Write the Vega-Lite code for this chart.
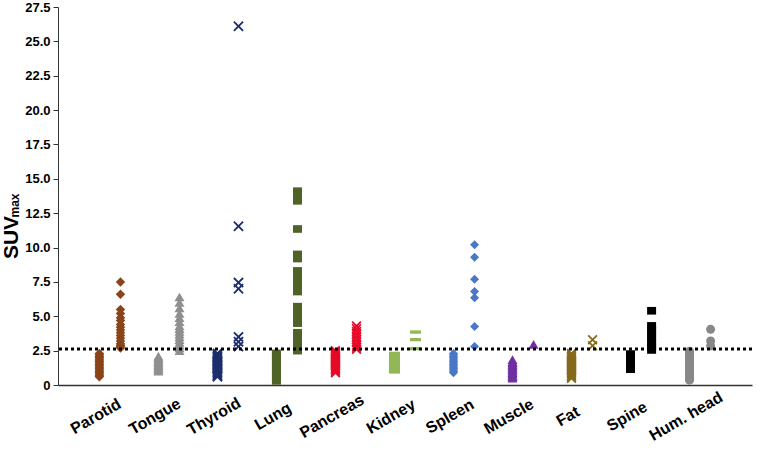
{
  "$schema": "https://vega.github.io/schema/vega-lite/v6.json",
  "autosize": {"type": "none"},
  "padding": {"left": 58, "top": 7, "right": 5, "bottom": 64},
  "width": 694,
  "height": 378,
  "background": "white",
  "config": {"view": {"stroke": null}, "font": "Liberation Sans"},
  "datasets": {
    "pts": [
      {"organ": "Parotid", "pos": "low", "v": 0.6}, {"organ": "Parotid", "pos": "low", "v": 0.7}, {"organ": "Parotid", "pos": "low", "v": 0.8}, {"organ": "Parotid", "pos": "low", "v": 0.9}, {"organ": "Parotid", "pos": "low", "v": 1.0}, {"organ": "Parotid", "pos": "low", "v": 1.1}, {"organ": "Parotid", "pos": "low", "v": 1.2}, {"organ": "Parotid", "pos": "low", "v": 1.3}, {"organ": "Parotid", "pos": "low", "v": 1.4}, {"organ": "Parotid", "pos": "low", "v": 1.5}, {"organ": "Parotid", "pos": "low", "v": 1.6}, {"organ": "Parotid", "pos": "low", "v": 1.7}, {"organ": "Parotid", "pos": "low", "v": 1.8}, {"organ": "Parotid", "pos": "low", "v": 1.9}, {"organ": "Parotid", "pos": "low", "v": 2.0}, {"organ": "Parotid", "pos": "low", "v": 2.1}, {"organ": "Parotid", "pos": "low", "v": 2.2}, {"organ": "Parotid", "pos": "low", "v": 2.3},
      {"organ": "Parotid", "pos": "high", "v": 7.5}, {"organ": "Parotid", "pos": "high", "v": 6.6}, {"organ": "Parotid", "pos": "high", "v": 5.5}, {"organ": "Parotid", "pos": "high", "v": 5.2}, {"organ": "Parotid", "pos": "high", "v": 4.9}, {"organ": "Parotid", "pos": "high", "v": 4.7}, {"organ": "Parotid", "pos": "high", "v": 4.4}, {"organ": "Parotid", "pos": "high", "v": 4.2}, {"organ": "Parotid", "pos": "high", "v": 4.0}, {"organ": "Parotid", "pos": "high", "v": 3.8}, {"organ": "Parotid", "pos": "high", "v": 3.6}, {"organ": "Parotid", "pos": "high", "v": 3.4}, {"organ": "Parotid", "pos": "high", "v": 3.2}, {"organ": "Parotid", "pos": "high", "v": 3.0}, {"organ": "Parotid", "pos": "high", "v": 2.9}, {"organ": "Parotid", "pos": "high", "v": 2.8}, {"organ": "Parotid", "pos": "high", "v": 2.7},
      {"organ": "Tongue", "pos": "low", "v": 2.1}, {"organ": "Tongue", "pos": "low", "v": 2.0}, {"organ": "Tongue", "pos": "low", "v": 1.9}, {"organ": "Tongue", "pos": "low", "v": 1.8}, {"organ": "Tongue", "pos": "low", "v": 1.7}, {"organ": "Tongue", "pos": "low", "v": 1.6}, {"organ": "Tongue", "pos": "low", "v": 1.5}, {"organ": "Tongue", "pos": "low", "v": 1.4}, {"organ": "Tongue", "pos": "low", "v": 1.3}, {"organ": "Tongue", "pos": "low", "v": 1.2}, {"organ": "Tongue", "pos": "low", "v": 1.1}, {"organ": "Tongue", "pos": "low", "v": 1.0},
      {"organ": "Tongue", "pos": "high", "v": 6.4}, {"organ": "Tongue", "pos": "high", "v": 6.0}, {"organ": "Tongue", "pos": "high", "v": 5.6}, {"organ": "Tongue", "pos": "high", "v": 5.2}, {"organ": "Tongue", "pos": "high", "v": 4.9}, {"organ": "Tongue", "pos": "high", "v": 4.6}, {"organ": "Tongue", "pos": "high", "v": 4.3}, {"organ": "Tongue", "pos": "high", "v": 4.1}, {"organ": "Tongue", "pos": "high", "v": 3.9}, {"organ": "Tongue", "pos": "high", "v": 3.7}, {"organ": "Tongue", "pos": "high", "v": 3.5}, {"organ": "Tongue", "pos": "high", "v": 3.3}, {"organ": "Tongue", "pos": "high", "v": 3.1}, {"organ": "Tongue", "pos": "high", "v": 2.9}, {"organ": "Tongue", "pos": "high", "v": 2.7}, {"organ": "Tongue", "pos": "high", "v": 2.5},
      {"organ": "Thyroid", "pos": "low", "v": 2.3}, {"organ": "Thyroid", "pos": "low", "v": 2.2}, {"organ": "Thyroid", "pos": "low", "v": 2.1}, {"organ": "Thyroid", "pos": "low", "v": 2.0}, {"organ": "Thyroid", "pos": "low", "v": 1.9}, {"organ": "Thyroid", "pos": "low", "v": 1.8}, {"organ": "Thyroid", "pos": "low", "v": 1.7}, {"organ": "Thyroid", "pos": "low", "v": 1.6}, {"organ": "Thyroid", "pos": "low", "v": 1.5}, {"organ": "Thyroid", "pos": "low", "v": 1.4}, {"organ": "Thyroid", "pos": "low", "v": 1.3}, {"organ": "Thyroid", "pos": "low", "v": 1.2}, {"organ": "Thyroid", "pos": "low", "v": 1.1}, {"organ": "Thyroid", "pos": "low", "v": 1.0}, {"organ": "Thyroid", "pos": "low", "v": 0.9}, {"organ": "Thyroid", "pos": "low", "v": 0.8}, {"organ": "Thyroid", "pos": "low", "v": 0.7}, {"organ": "Thyroid", "pos": "low", "v": 0.6},
      {"organ": "Thyroid", "pos": "high", "v": 26.1}, {"organ": "Thyroid", "pos": "high", "v": 11.55}, {"organ": "Thyroid", "pos": "high", "v": 7.45}, {"organ": "Thyroid", "pos": "high", "v": 7.0}, {"organ": "Thyroid", "pos": "high", "v": 3.5}, {"organ": "Thyroid", "pos": "high", "v": 3.15}, {"organ": "Thyroid", "pos": "high", "v": 2.8},
      {"organ": "Lung", "pos": "low", "v": 0.3}, {"organ": "Lung", "pos": "low", "v": 0.6}, {"organ": "Lung", "pos": "low", "v": 0.9}, {"organ": "Lung", "pos": "low", "v": 1.2}, {"organ": "Lung", "pos": "low", "v": 1.5}, {"organ": "Lung", "pos": "low", "v": 1.8}, {"organ": "Lung", "pos": "low", "v": 2.1}, {"organ": "Lung", "pos": "low", "v": 2.3},
      {"organ": "Lung", "pos": "high", "v": 14.1}, {"organ": "Lung", "pos": "high", "v": 13.8}, {"organ": "Lung", "pos": "high", "v": 13.4}, {"organ": "Lung", "pos": "high", "v": 11.35}, {"organ": "Lung", "pos": "high", "v": 9.5}, {"organ": "Lung", "pos": "high", "v": 9.2}, {"organ": "Lung", "pos": "high", "v": 8.3}, {"organ": "Lung", "pos": "high", "v": 8.0}, {"organ": "Lung", "pos": "high", "v": 7.7}, {"organ": "Lung", "pos": "high", "v": 7.4}, {"organ": "Lung", "pos": "high", "v": 7.1}, {"organ": "Lung", "pos": "high", "v": 6.8}, {"organ": "Lung", "pos": "high", "v": 5.7}, {"organ": "Lung", "pos": "high", "v": 5.4}, {"organ": "Lung", "pos": "high", "v": 5.1}, {"organ": "Lung", "pos": "high", "v": 4.8}, {"organ": "Lung", "pos": "high", "v": 4.5}, {"organ": "Lung", "pos": "high", "v": 3.8}, {"organ": "Lung", "pos": "high", "v": 3.5}, {"organ": "Lung", "pos": "high", "v": 3.2}, {"organ": "Lung", "pos": "high", "v": 2.9}, {"organ": "Lung", "pos": "high", "v": 2.5},
      {"organ": "Pancreas", "pos": "low", "v": 2.5}, {"organ": "Pancreas", "pos": "low", "v": 2.4}, {"organ": "Pancreas", "pos": "low", "v": 2.3}, {"organ": "Pancreas", "pos": "low", "v": 2.2}, {"organ": "Pancreas", "pos": "low", "v": 2.1}, {"organ": "Pancreas", "pos": "low", "v": 2.0}, {"organ": "Pancreas", "pos": "low", "v": 1.9}, {"organ": "Pancreas", "pos": "low", "v": 1.8}, {"organ": "Pancreas", "pos": "low", "v": 1.7}, {"organ": "Pancreas", "pos": "low", "v": 1.6}, {"organ": "Pancreas", "pos": "low", "v": 1.5}, {"organ": "Pancreas", "pos": "low", "v": 1.4}, {"organ": "Pancreas", "pos": "low", "v": 1.3}, {"organ": "Pancreas", "pos": "low", "v": 1.2}, {"organ": "Pancreas", "pos": "low", "v": 1.1}, {"organ": "Pancreas", "pos": "low", "v": 1.0}, {"organ": "Pancreas", "pos": "low", "v": 0.9},
      {"organ": "Pancreas", "pos": "high", "v": 4.3}, {"organ": "Pancreas", "pos": "high", "v": 4.1}, {"organ": "Pancreas", "pos": "high", "v": 3.9}, {"organ": "Pancreas", "pos": "high", "v": 3.7}, {"organ": "Pancreas", "pos": "high", "v": 3.5}, {"organ": "Pancreas", "pos": "high", "v": 3.3}, {"organ": "Pancreas", "pos": "high", "v": 3.1}, {"organ": "Pancreas", "pos": "high", "v": 2.9}, {"organ": "Pancreas", "pos": "high", "v": 2.75}, {"organ": "Pancreas", "pos": "high", "v": 2.6},
      {"organ": "Kidney", "pos": "low", "v": 2.3}, {"organ": "Kidney", "pos": "low", "v": 2.15}, {"organ": "Kidney", "pos": "low", "v": 2.0}, {"organ": "Kidney", "pos": "low", "v": 1.85}, {"organ": "Kidney", "pos": "low", "v": 1.7}, {"organ": "Kidney", "pos": "low", "v": 1.55}, {"organ": "Kidney", "pos": "low", "v": 1.4}, {"organ": "Kidney", "pos": "low", "v": 1.25}, {"organ": "Kidney", "pos": "low", "v": 1.1}, {"organ": "Kidney", "pos": "low", "v": 0.95},
      {"organ": "Kidney", "pos": "high", "v": 3.85}, {"organ": "Kidney", "pos": "high", "v": 3.3}, {"organ": "Kidney", "pos": "high", "v": 2.65},
      {"organ": "Spleen", "pos": "low", "v": 2.3}, {"organ": "Spleen", "pos": "low", "v": 2.2}, {"organ": "Spleen", "pos": "low", "v": 2.1}, {"organ": "Spleen", "pos": "low", "v": 2.0}, {"organ": "Spleen", "pos": "low", "v": 1.9}, {"organ": "Spleen", "pos": "low", "v": 1.8}, {"organ": "Spleen", "pos": "low", "v": 1.7}, {"organ": "Spleen", "pos": "low", "v": 1.6}, {"organ": "Spleen", "pos": "low", "v": 1.5}, {"organ": "Spleen", "pos": "low", "v": 1.4}, {"organ": "Spleen", "pos": "low", "v": 1.3}, {"organ": "Spleen", "pos": "low", "v": 1.2}, {"organ": "Spleen", "pos": "low", "v": 1.1}, {"organ": "Spleen", "pos": "low", "v": 1.0}, {"organ": "Spleen", "pos": "low", "v": 0.9},
      {"organ": "Spleen", "pos": "high", "v": 10.2}, {"organ": "Spleen", "pos": "high", "v": 9.3}, {"organ": "Spleen", "pos": "high", "v": 7.7}, {"organ": "Spleen", "pos": "high", "v": 6.8}, {"organ": "Spleen", "pos": "high", "v": 6.35}, {"organ": "Spleen", "pos": "high", "v": 4.25}, {"organ": "Spleen", "pos": "high", "v": 2.8},
      {"organ": "Muscle", "pos": "low", "v": 1.85}, {"organ": "Muscle", "pos": "low", "v": 1.7}, {"organ": "Muscle", "pos": "low", "v": 1.6}, {"organ": "Muscle", "pos": "low", "v": 1.5}, {"organ": "Muscle", "pos": "low", "v": 1.4}, {"organ": "Muscle", "pos": "low", "v": 1.3}, {"organ": "Muscle", "pos": "low", "v": 1.2}, {"organ": "Muscle", "pos": "low", "v": 1.1}, {"organ": "Muscle", "pos": "low", "v": 1.0}, {"organ": "Muscle", "pos": "low", "v": 0.9}, {"organ": "Muscle", "pos": "low", "v": 0.8}, {"organ": "Muscle", "pos": "low", "v": 0.7}, {"organ": "Muscle", "pos": "low", "v": 0.6}, {"organ": "Muscle", "pos": "low", "v": 0.5},
      {"organ": "Muscle", "pos": "high", "v": 2.95},
      {"organ": "Fat", "pos": "low", "v": 2.3}, {"organ": "Fat", "pos": "low", "v": 2.2}, {"organ": "Fat", "pos": "low", "v": 2.1}, {"organ": "Fat", "pos": "low", "v": 2.0}, {"organ": "Fat", "pos": "low", "v": 1.9}, {"organ": "Fat", "pos": "low", "v": 1.8}, {"organ": "Fat", "pos": "low", "v": 1.7}, {"organ": "Fat", "pos": "low", "v": 1.6}, {"organ": "Fat", "pos": "low", "v": 1.5}, {"organ": "Fat", "pos": "low", "v": 1.4}, {"organ": "Fat", "pos": "low", "v": 1.3}, {"organ": "Fat", "pos": "low", "v": 1.2}, {"organ": "Fat", "pos": "low", "v": 1.1}, {"organ": "Fat", "pos": "low", "v": 1.0}, {"organ": "Fat", "pos": "low", "v": 0.9}, {"organ": "Fat", "pos": "low", "v": 0.8}, {"organ": "Fat", "pos": "low", "v": 0.7}, {"organ": "Fat", "pos": "low", "v": 0.6}, {"organ": "Fat", "pos": "low", "v": 0.5},
      {"organ": "Fat", "pos": "high", "v": 3.3}, {"organ": "Fat", "pos": "high", "v": 2.85},
      {"organ": "Spine", "pos": "low", "v": 2.25}, {"organ": "Spine", "pos": "low", "v": 2.0}, {"organ": "Spine", "pos": "low", "v": 1.75}, {"organ": "Spine", "pos": "low", "v": 1.5}, {"organ": "Spine", "pos": "low", "v": 1.3}, {"organ": "Spine", "pos": "low", "v": 1.15},
      {"organ": "Spine", "pos": "high", "v": 5.4}, {"organ": "Spine", "pos": "high", "v": 4.3}, {"organ": "Spine", "pos": "high", "v": 4.0}, {"organ": "Spine", "pos": "high", "v": 3.7}, {"organ": "Spine", "pos": "high", "v": 3.4}, {"organ": "Spine", "pos": "high", "v": 3.1}, {"organ": "Spine", "pos": "high", "v": 2.8}, {"organ": "Spine", "pos": "high", "v": 2.55},
      {"organ": "Hum. head", "pos": "low", "v": 2.45}, {"organ": "Hum. head", "pos": "low", "v": 2.3}, {"organ": "Hum. head", "pos": "low", "v": 2.15}, {"organ": "Hum. head", "pos": "low", "v": 2.0}, {"organ": "Hum. head", "pos": "low", "v": 1.85}, {"organ": "Hum. head", "pos": "low", "v": 1.7}, {"organ": "Hum. head", "pos": "low", "v": 1.55}, {"organ": "Hum. head", "pos": "low", "v": 1.4}, {"organ": "Hum. head", "pos": "low", "v": 1.25}, {"organ": "Hum. head", "pos": "low", "v": 1.1}, {"organ": "Hum. head", "pos": "low", "v": 0.95}, {"organ": "Hum. head", "pos": "low", "v": 0.8}, {"organ": "Hum. head", "pos": "low", "v": 0.65}, {"organ": "Hum. head", "pos": "low", "v": 0.5}, {"organ": "Hum. head", "pos": "low", "v": 0.35},
      {"organ": "Hum. head", "pos": "high", "v": 4.05}, {"organ": "Hum. head", "pos": "high", "v": 3.2}, {"organ": "Hum. head", "pos": "high", "v": 2.85}
    ],
    "thr": [{"t": 2.62}]
  },
  "resolve": {"axis": {"y": "independent"}},
  "layer": [
    {
      "data": {"name": "pts"},
      "mark": {"type": "point", "filled": true, "opacity": 1, "strokeWidth": 0},
      "encoding": {
        "x": {
          "field": "organ", "type": "nominal", "sort": null,
          "scale": {"domain": ["Parotid", "Tongue", "Thyroid", "Lung", "Pancreas", "Kidney", "Spleen", "Muscle", "Fat", "Spine", "Hum. head"], "paddingInner": 0, "paddingOuter": 0.38},
          "axis": {"title": null, "ticks": false, "domain": true, "domainColor": "#333333", "domainWidth": 1.5, "labelAngle": -30, "labelAlign": "center", "labelBaseline": "middle", "labelFontSize": 16, "labelFontWeight": "bold", "labelColor": "black", "labelPadding": 31, "labelOffset": -14, "labelFont": "Liberation Sans"}
        },
        "xOffset": {"field": "pos", "type": "nominal", "scale": {"domain": ["low", "high"], "paddingInner": 0, "paddingOuter": 0.9}},
        "y": {
          "field": "v", "type": "quantitative",
          "scale": {"domain": [0, 27.5], "nice": false, "zero": true},
          "axis": {"values": [0, 2.5, 5, 7.5, 10, 12.5, 15, 17.5, 20, 22.5, 25, 27.5], "labelExpr": "datum.value == 0 ? '0' : format(datum.value, '.1f')", "grid": false, "domainColor": "#333333", "domainWidth": 1, "tickColor": "#333333", "tickSize": 5, "labelFontSize": 13, "labelFontWeight": "bold", "labelColor": "black", "labelPadding": 3, "labelFont": "Liberation Sans",
            "title": "SUV", "titleFontSize": 21, "titleFontWeight": "bold", "titleColor": "black", "titleFont": "Liberation Sans", "titleAngle": 270, "titleAlign": "center", "titleBaseline": "alphabetic", "titleX": -41, "titleY": 230}
        },
        "color": {
          "field": "organ", "type": "nominal", "legend": null,
          "scale": {"domain": ["Parotid", "Tongue", "Thyroid", "Lung", "Pancreas", "Kidney", "Spleen", "Muscle", "Fat", "Spine", "Hum. head"],
            "range": ["#8A4419", "#8F8F8F", "#1C2E6E", "#4F6228", "#E60A28", "#92B756", "#4A78C8", "#7030A0", "#846A1C", "#000000", "#888888"]}
        },
        "shape": {
          "field": "organ", "type": "nominal", "legend": null,
          "scale": {"domain": ["Parotid", "Tongue", "Thyroid", "Lung", "Pancreas", "Kidney", "Spleen", "Muscle", "Fat", "Spine", "Hum. head"],
            "range": ["diamond", "triangle-up", "M-1,-0.75L-0.75,-1L0,-0.25L0.75,-1L1,-0.75L0.25,0L1,0.75L0.75,1L0,0.25L-0.75,1L-1,0.75L-0.25,0Z", "M-1,-0.85H1V0.85H-1Z", "M-1,-0.75L-0.75,-1L0,-0.25L0.75,-1L1,-0.75L0.25,0L1,0.75L0.75,1L0,0.25L-0.75,1L-1,0.75L-0.25,0Z", "M-1,-0.3H1V0.3H-1Z", "diamond", "triangle-up", "M-1,-0.75L-0.75,-1L0,-0.25L0.75,-1L1,-0.75L0.25,0L1,0.75L0.75,1L0,0.25L-0.75,1L-1,0.75L-0.25,0Z", "M-1,-0.85H1V0.85H-1Z", "circle"]}
        },
        "size": {
          "field": "organ", "type": "nominal", "legend": null,
          "scale": {"type": "ordinal", "domain": ["Parotid", "Tongue", "Thyroid", "Lung", "Pancreas", "Kidney", "Spleen", "Muscle", "Fat", "Spine", "Hum. head"],
            "range": [90, 100, 110, 81, 100, 121, 81, 100, 100, 81, 81]}
        }
      }
    },
    {
      "data": {"name": "thr"},
      "mark": {"type": "rule", "color": "black", "strokeWidth": 3, "strokeDash": [3, 3]},
      "encoding": {
        "y": {
          "field": "t", "type": "quantitative",
          "axis": {"orient": "left", "title": "max", "labels": false, "ticks": false, "domain": false, "grid": false, "titleFontSize": 12, "titleFontWeight": "bold", "titleColor": "black", "titleFont": "Liberation Sans", "titleAngle": 270, "titleAlign": "center", "titleBaseline": "alphabetic", "titleX": -39.5, "titleY": 198}
        }
      }
    }
  ]
}
